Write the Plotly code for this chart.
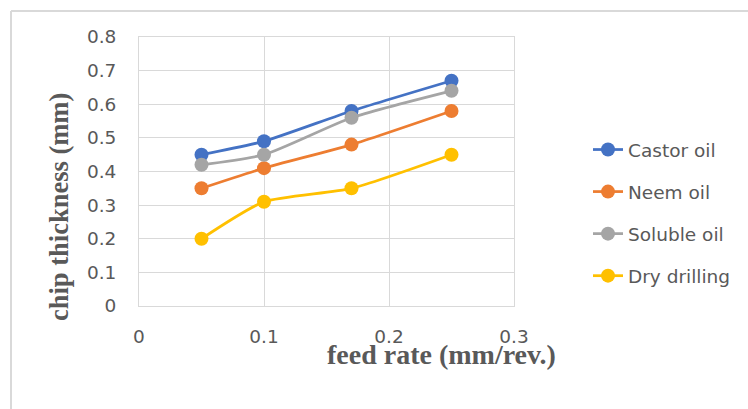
import plotly.graph_objects as go

feed_rate = [0.05, 0.1, 0.17, 0.25]
castor_oil = [0.45, 0.49, 0.58, 0.67]
neem_oil = [0.35, 0.41, 0.48, 0.58]
soluble_oil = [0.42, 0.45, 0.56, 0.64]
dry_drilling = [0.20, 0.31, 0.35, 0.45]

series_names = ["Castor oil", "Neem oil", "Soluble oil", "Dry drilling"]
series_values = [castor_oil, neem_oil, soluble_oil, dry_drilling]
series_colors = ["#4472C4", "#ED7D31", "#A5A5A5", "#FFC000"]

x_ticks = [0, 0.1, 0.2, 0.3]
x_ticklabels = ["0", "0.1", "0.2", "0.3"]
y_ticks = [0, 0.1, 0.2, 0.3, 0.4, 0.5, 0.6, 0.7, 0.8]
y_ticklabels = ["0", "0.1", "0.2", "0.3", "0.4", "0.5", "0.6", "0.7", "0.8"]

W, H = 748, 409
L, R, T, B = 139, 514, 37, 306

fig = go.Figure()
for i, (name, vals, col) in enumerate(zip(series_names, series_values, series_colors)):
    fig.add_trace(go.Scatter(
        x=feed_rate, y=vals, name=name, mode="lines+markers",
        line=dict(color=col, width=2.75, shape="spline", smoothing=0.6),
        marker=dict(color=col, size=14),
        legendgroup=f"g{i}",
    ))

grid = "#D9D9D9"
sans = "DejaVu Sans, sans-serif"
serif = "Liberation Serif, Times New Roman, serif"
tick_font = dict(family=sans, size=18.5, color="#595959")

fig.update_layout(
    width=W, height=H,
    margin=dict(l=L, r=W - R, t=T, b=H - B),
    paper_bgcolor="white", plot_bgcolor="white",
    showlegend=True,
    legend=dict(
        x=(588 - L) / (R - L), y=1 - (131 - T) / (B - T),
        xanchor="left", yanchor="top",
        font=dict(family=sans, size=18.5, color="#595959"),
        traceorder="grouped", tracegroupgap=15,
        bgcolor="rgba(0,0,0,0)",
    ),
    xaxis=dict(
        range=[0, 0.3], tickvals=x_ticks, ticktext=x_ticklabels,
        showgrid=True, gridcolor=grid, gridwidth=1,
        zeroline=False, showline=True, linecolor=grid, mirror=True,
        ticks="outside", ticklen=14, tickcolor="rgba(0,0,0,0)",
        tickfont=tick_font, fixedrange=True,
    ),
    yaxis=dict(
        range=[0, 0.8], tickvals=y_ticks, ticktext=y_ticklabels,
        showgrid=True, gridcolor=grid, gridwidth=1,
        zeroline=False, showline=True, linecolor=grid, mirror=True,
        ticks="outside", ticklen=18, tickcolor="rgba(0,0,0,0)",
        tickfont=tick_font, fixedrange=True,
    ),
    annotations=[
        dict(text="<b>chip thickness (mm)</b>", xref="paper", yref="paper",
             x=(59 - L) / (R - L), y=(B - 207) / (B - T), showarrow=False,
             textangle=-90, xanchor="center", yanchor="middle",
             font=dict(family=serif, size=26.5, color="#595959")),
        dict(text="<b>feed rate (mm/rev.)</b>", xref="paper", yref="paper",
             x=(441 - L) / (R - L), y=(B - 354) / (B - T), showarrow=False,
             xanchor="center", yanchor="middle",
             font=dict(family=serif, size=28, color="#595959")),
    ],
    shapes=[
        dict(type="line", xref="paper", yref="paper",
             x0=(11 - L) / (R - L), x1=(W + 5 - L) / (R - L),
             y0=(B - 11) / (B - T), y1=(B - 11) / (B - T),
             line=dict(color=grid, width=2)),
        dict(type="line", xref="paper", yref="paper",
             x0=(11 - L) / (R - L), x1=(11 - L) / (R - L),
             y0=(B - 11) / (B - T), y1=(B - H - 5) / (B - T),
             line=dict(color=grid, width=2)),
    ],
)

fig.write_html("out.html", config={"displayModeBar": False})
